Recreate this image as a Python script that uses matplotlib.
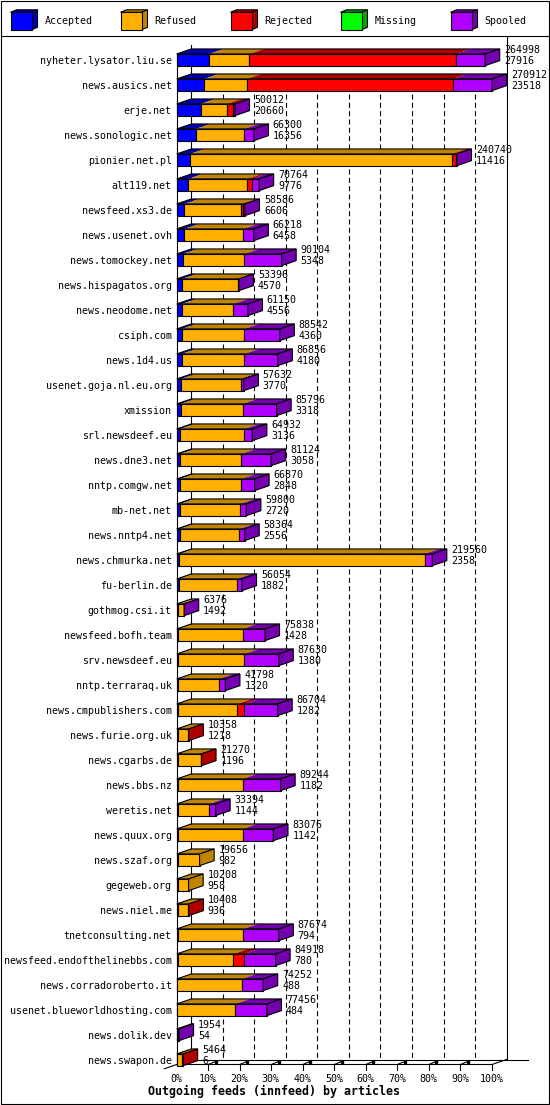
import matplotlib
matplotlib.use("Agg")
import matplotlib.pyplot as plt
import numpy as np
from matplotlib.patches import Polygon, Rectangle

hosts = ["nyheter.lysator.liu.se", "news.ausics.net", "erje.net", "news.sonologic.net",
         "pionier.net.pl", "alt119.net", "newsfeed.xs3.de", "news.usenet.ovh",
         "news.tomockey.net", "news.hispagatos.org", "news.neodome.net", "csiph.com",
         "news.1d4.us", "usenet.goja.nl.eu.org", "xmission", "srl.newsdeef.eu",
         "news.dne3.net", "nntp.comgw.net", "mb-net.net", "news.nntp4.net",
         "news.chmurka.net", "fu-berlin.de", "gothmog.csi.it", "newsfeed.bofh.team",
         "srv.newsdeef.eu", "nntp.terraraq.uk", "news.cmpublishers.com", "news.furie.org.uk",
         "news.cgarbs.de", "news.bbs.nz", "weretis.net", "news.quux.org",
         "news.szaf.org", "gegeweb.org", "news.niel.me", "tnetconsulting.net",
         "newsfeed.endofthelinebbs.com", "news.corradoroberto.it",
         "usenet.blueworldhosting.com", "news.dolik.dev", "news.swapon.de"]

totals = [264998, 270912, 50012, 66300, 240740, 70764, 58586, 66218, 90104, 53396,
          61150, 88542, 86856, 57632, 85796, 64932, 81124, 66870, 59800, 58364,
          219560, 56054, 6376, 75838, 87630, 41798, 86704, 10358, 21270, 89244,
          33394, 83076, 19656, 10208, 10408, 87674, 84918, 74252, 77456, 1954, 5464]

accepted = [27916, 23518, 20660, 16356, 11416, 9776, 6606, 6458, 5348, 4570,
            4556, 4360, 4180, 3770, 3318, 3136, 3058, 2848, 2720, 2556,
            2358, 1882, 1492, 1428, 1380, 1320, 1282, 1218, 1196, 1182,
            1144, 1142, 982, 958, 936, 794, 780, 488, 484, 54, 6]

refused = [34600, 36700, 22360, 41550, 225100, 51000, 48700, 50900, 52850, 48470,
           44180, 53840, 54020, 51280, 53450, 55064, 52560, 52770, 52040, 51344,
           210640, 49720, 4500, 55340, 56820, 34800, 50900, 8640, 19574, 55590,
           26960, 55630, 18674, 9250, 8972, 56550, 47960, 55700, 49976, 1400, 4300]

rejected = [177400, 177200, 5740, 0, 3460, 3720, 1400, 0, 0, 0,
            0, 0, 0, 0, 0, 0, 0, 0, 0, 0,
            0, 0, 0, 0, 0, 0, 5720, 500, 500, 0,
            0, 0, 0, 0, 500, 0, 9170, 0, 0, 0, 1158]

missing = [0] * 41

spooled = [25082, 33494, 1252, 8394, 764, 6268, 1880, 8860, 31906, 356,
           12414, 30342, 28656, 2582, 29028, 6732, 25506, 11252, 5040, 4464,
           6562, 4452, 384, 19070, 29430, 5678, 28802, 0, 0, 32472,
           5290, 26304, 0, 0, 0, 30330, 27008, 18064, 26996, 500, 0]

series_names = ["Accepted", "Refused", "Rejected", "Missing", "Spooled"]
series_vals = [accepted, refused, rejected, missing, spooled]
front_col = ["#0000FF", "#FFB000", "#FF0000", "#00FF00", "#B000FF"]
shade_col = ["#0000B0", "#C08400", "#B00000", "#00A800", "#7400B0"]

XMAX = max(totals)
MONO = "DejaVu Sans Mono"
FS = 7.2
LW = 0.8

W, H = 550, 1105
fig = plt.figure(figsize=(W / 100, H / 100), dpi=100)

# background axes in pixel units: border, legend, title
bg = fig.add_axes([0, 0, 1, 1])
bg.set_xlim(0, W)
bg.set_ylim(H, 0)
bg.axis("off")
bg.add_patch(Rectangle((0.5, 0.5), 548, 1103.5, fill=False, ec="black", lw=LW))
bg.plot([0.5, 548.5], [35.8, 35.8], color="black", lw=LW)

for s, name in enumerate(series_names):
    lx = 10.5 + 110 * s
    bg.add_patch(Polygon([(lx, 12.3), (lx + 21, 12.3), (lx + 27, 9.8), (lx + 6, 9.8)],
                         fc=shade_col[s], ec="black", lw=LW))
    bg.add_patch(Polygon([(lx + 21, 12.3), (lx + 27, 9.8), (lx + 27, 27.3), (lx + 21, 29.8)],
                         fc=shade_col[s], ec="black", lw=LW))
    bg.add_patch(Rectangle((lx, 12.3), 21, 17.5, fc=front_col[s], ec="black", lw=LW))
    bg.text(lx + 34, 21, name, family=MONO, fontsize=FS, va="center", ha="left")

bg.text(274.5, 1091.7, "Outgoing feeds (innfeed) by articles", family=MONO,
        fontweight="bold", fontsize=8.4, ha="center", va="center")

# data axes: front plane of the plot
front_top, floor_px = 45.0, 1064.5
ax = fig.add_axes([176.7 / W, (H - floor_px) / H, 315.3 / W, (floor_px - front_top) / H])
ax.set_xlim(0, XMAX)
y_bot = (floor_px - 59.8) / 25
y_top = (front_top - 59.8) / 25
ax.set_ylim(y_bot, y_top)
ax.axis("off")

# depth of the 3d effect, in data units
inv = ax.transData.inverted()
p0, p1 = inv.transform([(0, 0), (14.6, 5.0)])
ddx, ddy = p1[0] - p0[0], p1[1] - p0[1]
BH = 11.7 / 25 / 2

# back plane, floor and grid
ticks = np.linspace(0, XMAX, 11)
floor_back = y_bot + ddy
for t in ticks[1:-1]:
    ax.plot([t + ddx, t + ddx], [1.35, floor_back], color="black", lw=LW,
            dashes=(4.5, 3), zorder=1)
ax.plot([ddx, ddx], [y_top, floor_back], color="black", lw=LW, zorder=1)
ax.plot([XMAX + ddx, XMAX + ddx], [y_top - 0.32, floor_back], color="black", lw=LW,
        zorder=1, clip_on=False)
ax.plot([0, 0], [-0.27, y_bot], color="black", lw=LW, zorder=1, clip_on=False)
ax.plot([0, XMAX, XMAX + ddx], [y_bot, y_bot, floor_back], color="black", lw=LW,
        zorder=1, clip_on=False)
ax.plot([ddx, XMAX * 1.114], [floor_back, floor_back], color="black", lw=LW,
        zorder=1, clip_on=False)
ax.plot([-0.85 * ddx, ddx], [y_bot - 0.85 * ddy, floor_back], color="black", lw=LW,
        zorder=1, clip_on=False)
for k, t in enumerate(ticks):
    if k > 0:
        ax.plot([t, t], [y_bot, y_bot + 0.2], color="black", lw=LW, clip_on=False)
    if 0 < k < 10:
        ax.plot([t, t + 0.5 * ddx], [y_bot, y_bot + 0.6 * ddy], color="black", lw=LW,
                clip_on=False)
        ax.plot([t + 0.5 * ddx], [y_bot + 0.55 * ddy], marker="s", ms=1.8,
                color="black", clip_on=False)
    ax.annotate(f"{k * 10}%", xy=(t, y_bot), xytext=(-0.5, -14),
                textcoords="offset pixels", ha="center", va="center",
                family=MONO, fontsize=FS, annotation_clip=False)

# bars
for i, host in enumerate(hosts):
    top, bot = i - BH, i + BH
    left = 0
    last = 0
    for s, vals in enumerate(series_vals):
        v = vals[i]
        if v <= 0:
            continue
        right = left + v
        ax.add_patch(Polygon([(left, top), (right, top), (right + ddx, top + ddy),
                              (left + ddx, top + ddy)], fc=shade_col[s], ec="none",
                             zorder=3, clip_on=False))
        ax.add_patch(Rectangle((left, top), v, 2 * BH, fc=front_col[s], ec="black",
                               lw=LW, zorder=4, clip_on=False))
        last = s
        left = right
    ax.add_patch(Polygon([(0, top), (left, top), (left + ddx, top + ddy), (ddx, top + ddy)],
                         fill=False, ec="black", lw=LW, zorder=4, clip_on=False))
    ax.add_patch(Polygon([(left, top), (left, bot), (left + ddx, bot + ddy),
                          (left + ddx, top + ddy)], fc=shade_col[last], ec="black",
                         lw=LW, zorder=4, clip_on=False))
    ax.annotate(str(totals[i]), xy=(left, i), xytext=(19, 10), textcoords="offset pixels",
                ha="left", va="center", family=MONO, fontsize=FS, annotation_clip=False)
    ax.annotate(str(accepted[i]), xy=(left, i), xytext=(19, -1), textcoords="offset pixels",
                ha="left", va="center", family=MONO, fontsize=FS, annotation_clip=False)
    ax.annotate(host, xy=(0, i), xytext=(-5, -1), textcoords="offset pixels",
                ha="right", va="center", family=MONO, fontsize=FS, annotation_clip=False)

plt.savefig("out.png", dpi=100)
